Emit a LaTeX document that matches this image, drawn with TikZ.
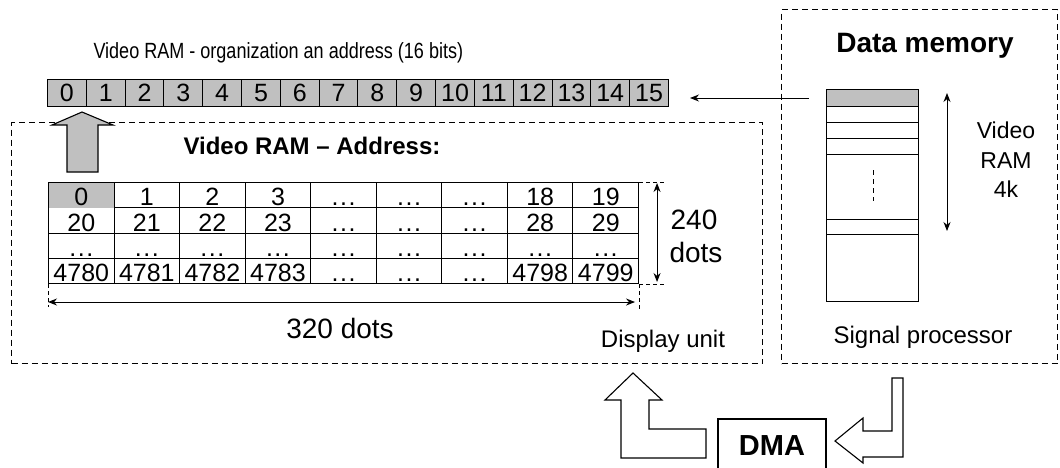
\documentclass[tikz,border=0pt]{standalone}
\usepackage{fontspec}
\setmainfont{Liberation Sans}
\newfontfamily\narrowf[FakeStretch=0.82]{Liberation Sans}
\usetikzlibrary{arrows.meta,calc}
\definecolor{cellgray}{RGB}{192,192,192}
\newcommand\dd{.\kern1.5pt.\kern1.5pt.}
\begin{document}
\begin{tikzpicture}[x=1pt,y=-1pt,
  every path/.style={line width=1pt},
  regcell/.style={draw, fill=cellgray, minimum width=38.81pt, minimum height=27pt, inner sep=0pt, anchor=north west, font=\fontsize{25}{25}\selectfont},
  gcell/.style={draw, minimum width=65.56pt, minimum height=25.25pt, inner sep=0pt, anchor=north west},
  gtext/.style={anchor=base, inner sep=0pt, font=\fontsize{25}{25}\selectfont},
  dashbox/.style={draw, dash pattern=on 6pt off 4pt, line width=1.1pt},
  ext/.style={draw, dash pattern=on 4pt off 3pt, line width=0.8pt},
  tip/.style={-{Stealth[length=9pt,width=7pt]}},
  dtip/.style={{Stealth[length=9pt,width=7pt]}-{Stealth[length=9pt,width=7pt]}},
  hollow/.style={draw, line width=1.1pt, fill=white},
  lbl/.style={anchor=base, inner sep=0pt}
]
\useasboundingbox (0,0) rectangle (1060,467);

% dashed unit boxes
\node[dashbox, anchor=north west, minimum width=751pt, minimum height=241pt, inner sep=0pt] (disp) at (11,122) {};
\node[dashbox, anchor=north west, minimum width=276pt, minimum height=354pt, inner sep=0pt] (proc) at (781,9) {};

% title and register
\node[lbl, anchor=base west, font=\narrowf\fontsize{22}{22}\selectfont] (title) at (93,58) {Video RAM - organization an address (16 bits)};
\foreach \i in {0,...,15} \node[regcell] (r\i) at ({47+\i*38.81},79) {\i};

% arrow from data memory to register
\coordinate (msrc) at (809,98);
\coordinate (rin) at (690,98);
\draw[tip] (msrc) -- (rin);

% gray up arrow
\draw[fill=cellgray, line width=1.1pt] (67,172) -- (67,125) -- (52,125) -- (82,112) -- (113,125) -- (98,125) -- (98,172) -- cycle;

% grid
\node[lbl, anchor=base west, font=\bfseries\fontsize{24}{24}\selectfont] (vaddr) at (183,154) {Video RAM -- Address:};
\foreach \r in {0,...,3}
  \foreach \c in {0,...,8}
    \node[gcell] (g\r\c) at ({48+\c*65.56},{182+\r*25.25}) {};
\fill[cellgray] ([shift={(0.5pt,-0.5pt)}]g00.north west) rectangle ([shift={(-0.5pt,0.5pt)}]g00.south east);
\foreach \lab [count=\c from 0] in {0,1,2,3,\dd,\dd,\dd,18,19}
  \node[gtext] at ([yshift=2.5pt]g0\c.south) {\lab};
\foreach \lab [count=\c from 0] in {20,21,22,23,\dd,\dd,\dd,28,29}
  \node[gtext] at ([yshift=2.5pt]g1\c.south) {\lab};
\foreach \c in {0,...,8}
  \node[gtext] at ([yshift=2.5pt]g2\c.south) {\dd};
\foreach \lab [count=\c from 0] in {4780,4781,4782,4783,\dd,\dd,\dd,4798,4799}
  \node[gtext] at ([yshift=2.5pt]g3\c.south) {\lab};

% dimensions
\draw[ext] (g30.south west) -- ++(0,23);
\draw[ext] (g38.south east) -- ++(0,25);
\coordinate (hl) at ($(g30.south west)+(0,18)$);
\coordinate (hr) at ($(g38.south east)+(-4,18)$);
\draw[dtip] (hl) -- (hr);
\node[lbl, font=\fontsize{28}{28}\selectfont] (w320) at (340,338) {320 dots};
\draw[ext] (g08.north east) -- ++(25,0);
\draw[ext] (g38.south east) -- ++(25,0);
\coordinate (vt) at ($(g08.north east)+(18,1)$);
\coordinate (vb) at ($(g38.south east)+(18,-2)$);
\draw[dtip] (vt) -- (vb);
\node[lbl, font=\fontsize{28}{28}\selectfont] (h240) at (694,229) {240};
\node[lbl, font=\fontsize{28}{28}\selectfont] (hdots) at (696,262) {dots};
\node[lbl, font=\fontsize{24}{24}\selectfont] (dlab) at (663,347) {Display unit};

% data memory
\node[lbl, font=\bfseries\fontsize{28}{28}\selectfont] (dmem) at (925,52) {Data memory};
\node[draw, anchor=north west, minimum width=92pt, minimum height=212pt, inner sep=0pt] (mem) at (826,89) {};
\fill[cellgray] (826.5,89.5) rectangle (917.5,106);
\foreach \yy in {106,122,138,154,219,234} \draw (mem.west |- 0,\yy) -- (mem.east |- 0,\yy);
\draw[dash pattern=on 5pt off 4pt] (873,170) -- (873,201);
\coordinate (mt) at (947,93);
\coordinate (mb) at (947,231);
\draw[dtip] (mt) -- (mb);
\node[lbl, font=\fontsize{23}{23}\selectfont] (v1) at (1006,138) {Video};
\node[lbl, font=\fontsize{23}{23}\selectfont] (v2) at (1006,168) {RAM};
\node[lbl, font=\fontsize{23}{23}\selectfont] (v3) at (1006,197) {4k};
\node[lbl, font=\fontsize{24}{24}\selectfont] (sp) at (923,343) {Signal processor};

% DMA
\draw[line width=1.1pt] (718,470) -- (718,419) -- (826,419) -- (826,470);
\node[lbl, font=\bfseries\fontsize{29}{29}\selectfont] (dma) at (772,455) {DMA};
\draw[hollow] (621,458) -- (621,400) -- (605,400) -- (633,373) -- (662,400) -- (649,400) -- (649,429) -- (706,429) -- (706,458) -- cycle;
\draw[hollow] (835,441) -- (863,418) -- (863,431) -- (892,431) -- (892,378) -- (903,378) -- (903,457) -- (863,457) -- (863,463) -- cycle;
\end{tikzpicture}
\end{document}
